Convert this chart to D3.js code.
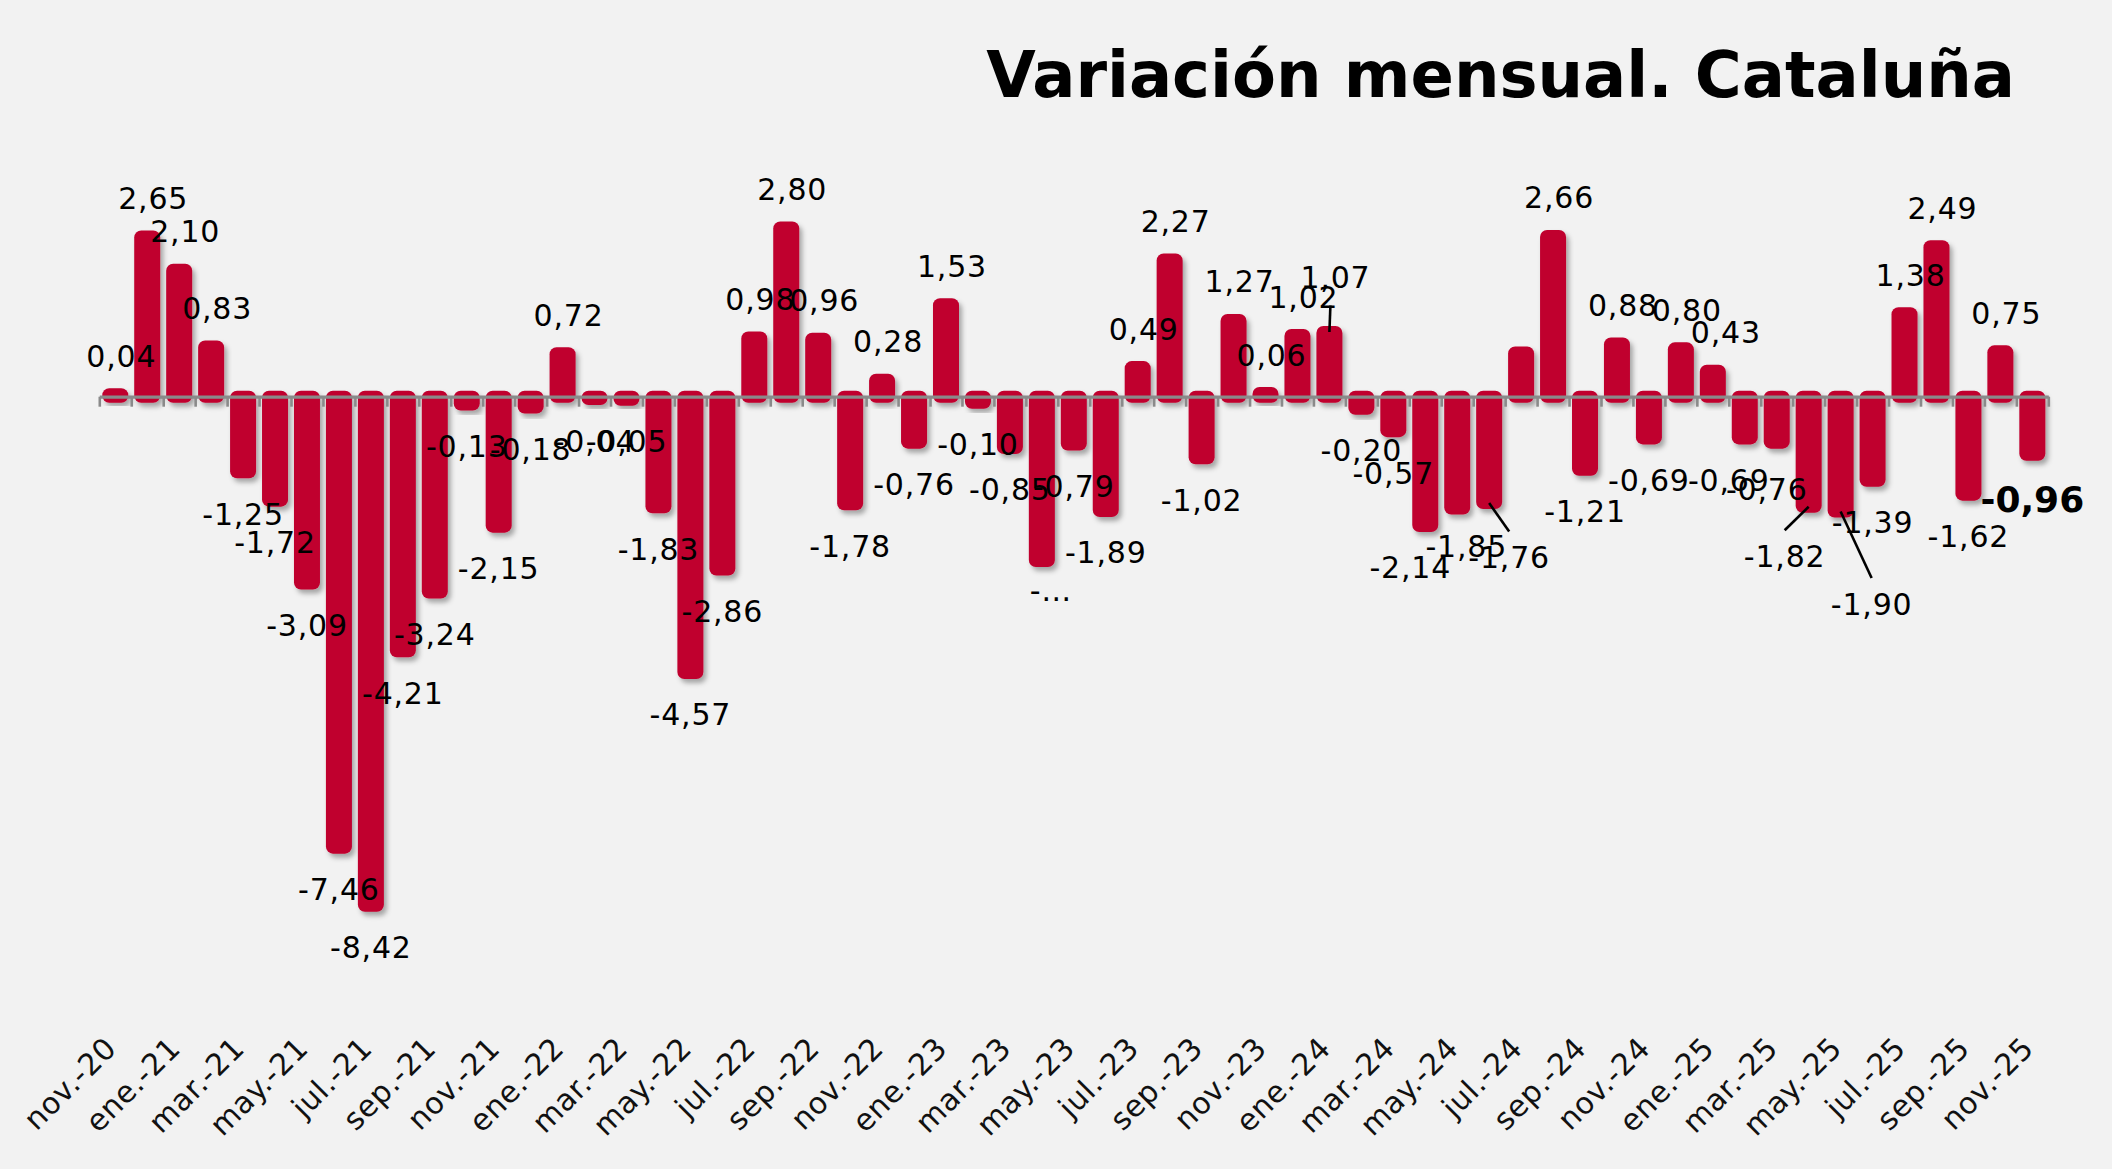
<!DOCTYPE html>
<html>
<head>
<meta charset="utf-8">
<script src="https://cdn.jsdelivr.net/npm/d3@7"></script>
<style>
  body { margin: 0; background: #f2f2f2; }
  text { font-family: "DejaVu Sans", Verdana, sans-serif; }
</style>
</head>
<body>
<script>
var w = 2112;
var h = 1169;

// months nov-20 .. nov-25
var months = [
  "nov.-20", "dic.-20",
  "ene.-21", "feb.-21", "mar.-21", "abr.-21", "may.-21", "jun.-21",
  "jul.-21", "ago.-21", "sep.-21", "oct.-21", "nov.-21", "dic.-21",
  "ene.-22", "feb.-22", "mar.-22", "abr.-22", "may.-22", "jun.-22",
  "jul.-22", "ago.-22", "sep.-22", "oct.-22", "nov.-22", "dic.-22",
  "ene.-23", "feb.-23", "mar.-23", "abr.-23", "may.-23", "jun.-23",
  "jul.-23", "ago.-23", "sep.-23", "oct.-23", "nov.-23", "dic.-23",
  "ene.-24", "feb.-24", "mar.-24", "abr.-24", "may.-24", "jun.-24",
  "jul.-24", "ago.-24", "sep.-24", "oct.-24", "nov.-24", "dic.-24",
  "ene.-25", "feb.-25", "mar.-25", "abr.-25", "may.-25", "jun.-25",
  "jul.-25", "ago.-25", "sep.-25", "oct.-25", "nov.-25"
];

var values = [
  0.04, 2.65,
  2.10, 0.83, -1.25, -1.72, -3.09, -7.46, -8.42, -4.21, -3.24, -0.13, -2.15, -0.18,
  0.72, -0.04, -0.05, -1.83, -4.57, -2.86, 0.98, 2.80, 0.96, -1.78, 0.28, -0.76,
  1.53, -0.10, -0.85, -2.72, -0.79, -1.89, 0.49, 2.27, -1.02, 1.27, 0.06, 1.02,
  1.07, -0.20, -0.57, -2.14, -1.85, -1.76, 0.73, 2.66, -1.21, 0.88, -0.69, 0.80,
  0.43, -0.69, -0.76, -1.82, -1.90, -1.39, 1.38, 2.49, -1.62, 0.75, -0.96
];

// every other month gets an axis label
var tickLabels = months.filter(function(d, i){ return i % 2 === 0; });

// label text that differs from the value (cut or hidden in the original)
var labelOverride = { 29: "-\u2026", 44: "" };
// labels that were pushed away from their bar, [dx, dy]
var labelNudge = {
  29: [9, -13], 38: [0, -17], 41: [-15, 0], 42: [9, -4], 43: [20, 13],
  50: [7, 0], 51: [-16, 0], 52: [-10, 5], 53: [-24, 8], 54: [31, 51]
};
var leaderLines = [38, 43, 53, 54];

var red = "#c0002f";
var fmt = d3.format(".2f");

var xScale = d3.scaleBand()
  .domain(months)
  .range([99.3, 2048.3])
  .paddingInner(0.186)
  .paddingOuter(0.093);

var yScale = d3.scaleLinear()
  .domain([-9, 3])
  .range([396.7 + 9 * 60.45, 396.7 - 3 * 60.45]);

var tickScale = d3.scaleLinear()
  .domain([0, months.length])
  .range(xScale.range());

var svg = d3.select("body")
  .append("svg")
  .attr("width", w)
  .attr("height", h);

svg.append("rect")
  .attr("width", w)
  .attr("height", h)
  .attr("fill", "#f2f2f2");

var filter = svg.append("defs").append("filter")
  .attr("id", "shadow")
  .attr("x", "-30%").attr("y", "-10%")
  .attr("width", "160%").attr("height", "130%");
filter.append("feDropShadow")
  .attr("dx", 3)
  .attr("dy", 4)
  .attr("stdDeviation", 2.5)
  .attr("flood-color", "#000")
  .attr("flood-opacity", 0.32);

// title
svg.append("text")
  .attr("x", 2015)
  .attr("y", 97)
  .attr("text-anchor", "end")
  .attr("font-size", "64px")
  .attr("font-weight", "bold")
  .attr("fill", "#000")
  .text("Variación mensual. Cataluña");

// bars (rounded, overshooting the baseline a little)
var cap = 6;
svg.append("g")
  .selectAll("rect")
  .data(values)
  .enter()
  .append("rect")
  .attr("x", function(d, i){ return xScale(months[i]); })
  .attr("width", xScale.bandwidth())
  .attr("y", function(d){ return yScale(Math.max(d, 0)) - cap; })
  .attr("height", function(d){ return Math.abs(yScale(d) - yScale(0)) + 2 * cap; })
  .attr("rx", 7)
  .attr("fill", red)
  .attr("filter", "url(#shadow)");

// axis at zero with ticks between bars
var xAxis = d3.axisBottom(tickScale)
  .tickValues(d3.range(months.length + 1))
  .tickFormat("")
  .tickSize(10)
  .tickSizeOuter(0);

var axisG = svg.append("g")
  .attr("transform", "translate(0," + yScale(0) + ")")
  .call(xAxis);
axisG.select(".domain")
  .attr("stroke", "#8a8a8a")
  .attr("stroke-width", 3.2);
axisG.selectAll(".tick line")
  .attr("stroke", "#8a8a8a")
  .attr("stroke-width", 2.6);

// category labels
svg.append("g")
  .selectAll("text")
  .data(tickLabels)
  .enter()
  .append("text")
  .attr("transform", function(d){
    var x = xScale(d) + xScale.bandwidth() / 2 + 3;
    return "translate(" + x + ",1050) rotate(-45)";
  })
  .attr("text-anchor", "end")
  .attr("font-size", "30px")
  .attr("letter-spacing", "0.6px")
  .attr("fill", "#111")
  .text(function(d){ return d; });

// data labels
var last = values.length - 1;
var labels = values.map(function(v, i){
  var cx = xScale(months[i]) + xScale.bandwidth() / 2;
  var nudge = labelNudge[i] || [0, 0];
  var txt = labelOverride[i] !== undefined ? labelOverride[i]
    : fmt(v).replace("\u2212", "-").replace(".", ",");
  var bold = i === last;
  var capH = bold ? 26.2 : 21.9;
  var lx, ly;
  if (v >= 0) {
    lx = cx + 6;
    ly = yScale(v) - 27.5;
  } else {
    lx = cx;
    ly = yScale(v) + cap + (bold ? 25.5 : 24.5) + capH;
  }
  return { i: i, v: v, cx: cx, x: lx + nudge[0], y: ly + nudge[1], text: txt, bold: bold, capH: capH };
});

// leader lines
svg.append("g")
  .selectAll("line")
  .data(labels.filter(function(d){ return leaderLines.indexOf(d.i) >= 0; }))
  .enter()
  .append("line")
  .attr("x1", function(d){ return d.cx; })
  .attr("y1", function(d){ return yScale(d.v); })
  .attr("x2", function(d){ return d.v >= 0 ? d.x - 5 : d.x; })
  .attr("y2", function(d){ return d.v >= 0 ? d.y + 18 : d.y - d.capH - 15; })
  .attr("stroke", "#000")
  .attr("stroke-width", 2.6);

svg.append("g")
  .selectAll("text")
  .data(labels)
  .enter()
  .append("text")
  .attr("x", function(d){ return d.x; })
  .attr("y", function(d){ return d.y; })
  .attr("text-anchor", "middle")
  .attr("font-size", function(d){ return d.bold ? "36px" : "30px"; })
  .attr("font-weight", function(d){ return d.bold ? "bold" : "normal"; })
  .attr("letter-spacing", function(d){ return d.bold ? "0px" : "0.8px"; })
  .attr("fill", "#000")
  .text(function(d){ return d.text; });
</script>
</body>
</html>
